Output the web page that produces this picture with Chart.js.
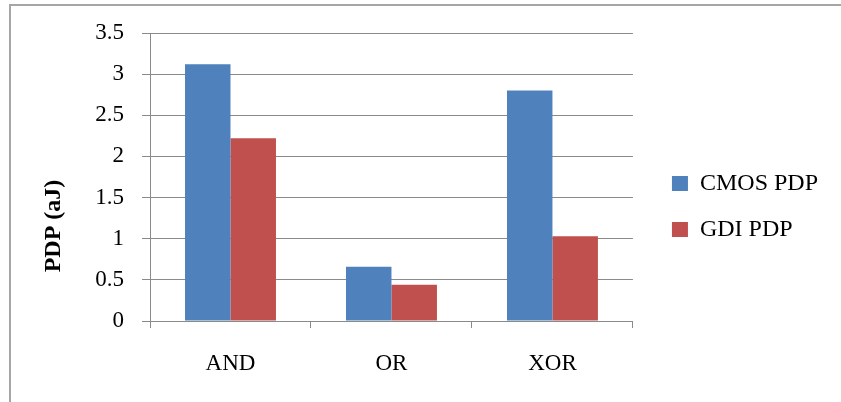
<!DOCTYPE html>
<html>
<head>
<meta charset="utf-8">
<script src="https://cdn.jsdelivr.net/npm/chart.js@4/dist/chart.umd.min.js"></script>
<style>
  html, body { margin: 0; padding: 0; background: #ffffff; }
  #wrap { position: relative; width: 841px; height: 402px; }
</style>
</head>
<body>
<div id="wrap"><canvas id="chart" width="841" height="402"></canvas></div>
<script>
// Power-delay product per logic gate
const gates = ['AND', 'OR', 'XOR'];
const cmosPdp = [3.12, 0.66, 2.80];
const gdiPdp = [2.22, 0.44, 1.03];
const yTicks = [0, 0.5, 1, 1.5, 2, 2.5, 3, 3.5];
const yTickLabels = ['0', '0.5', '1', '1.5', '2', '2.5', '3', '3.5'];
const axisTitle = 'PDP (aJ)';

const serif = '"Liberation Serif", "Times New Roman", serif';

// Frame line along the top and left edges of the chart box
const framePlugin = {
  id: 'frame',
  beforeDraw(chart) {
    const ctx = chart.ctx;
    ctx.save();
    ctx.strokeStyle = '#a6a6a6';
    ctx.lineWidth = 2;
    ctx.beginPath();
    ctx.moveTo(10, chart.height);
    ctx.lineTo(10, 5);
    ctx.lineTo(chart.width, 5);
    ctx.stroke();
    ctx.restore();
  }
};

// Nudge the legend box right and up, leaving a wider gap after the plot
const legendShiftPlugin = {
  id: 'legendShift',
  afterLayout(chart) {
    const lg = chart.legend;
    if (!lg) return;
    lg.left += 17; lg.right += 17;
    lg.top -= 11; lg.bottom -= 11;
  }
};

// Rotated, bold y-axis title placed a little below the axis middle
const yTitlePlugin = {
  id: 'yTitle',
  afterDraw(chart) {
    const ctx = chart.ctx;
    ctx.save();
    ctx.translate(54, 226);
    ctx.rotate(-Math.PI / 2);
    ctx.font = 'bold 24px ' + serif;
    ctx.fillStyle = '#000000';
    ctx.textAlign = 'center';
    ctx.textBaseline = 'middle';
    ctx.fillText(axisTitle, 0, 0);
    ctx.restore();
  }
};

new Chart(document.getElementById('chart'), {
  type: 'bar',
  data: {
    labels: gates,
    datasets: [
      { label: 'CMOS PDP', data: cmosPdp, backgroundColor: '#4f81bd', borderWidth: 0 },
      { label: 'GDI PDP', data: gdiPdp, backgroundColor: '#c0504d', borderWidth: 0 }
    ]
  },
  options: {
    responsive: false,
    animation: false,
    devicePixelRatio: 1,
    layout: { padding: { top: 33, left: 10, right: 30, bottom: 0 } },
    datasets: { bar: { categoryPercentage: 0.565, barPercentage: 1 } },
    plugins: {
      tooltip: { enabled: false },
      legend: {
        position: 'right',
        labels: {
          boxWidth: 16,
          boxHeight: 15,
          padding: 22,
          color: '#000000',
          font: { family: serif, size: 24 }
        }
      }
    },
    scales: {
      x: {
        afterFit(scale) { scale.height = 81; },
        grid: {
          display: true,
          drawOnChartArea: false,
          drawTicks: true,
          tickLength: 7,
          color: '#8a8a8a',
          offset: true
        },
        border: { display: true, color: '#8a8a8a', width: 1 },
        ticks: {
          padding: 22,
          color: '#000000',
          font: { family: serif, size: 23 }
        }
      },
      y: {
        min: 0,
        max: 3.5,
        afterFit(scale) { scale.width = 140; },
        afterBuildTicks(scale) { scale.ticks = yTicks.map(v => ({ value: v })); },
        grid: {
          color: '#8a8a8a',
          lineWidth: 1,
          drawTicks: true,
          tickLength: 8
        },
        border: { display: true, color: '#8a8a8a', width: 1 },
        ticks: {
          padding: 18,
          color: '#000000',
          font: { family: serif, size: 23 },
          callback: (value, index) => yTickLabels[index]
        }
      }
    }
  },
  plugins: [framePlugin, legendShiftPlugin, yTitlePlugin]
});
</script>
</body>
</html>
